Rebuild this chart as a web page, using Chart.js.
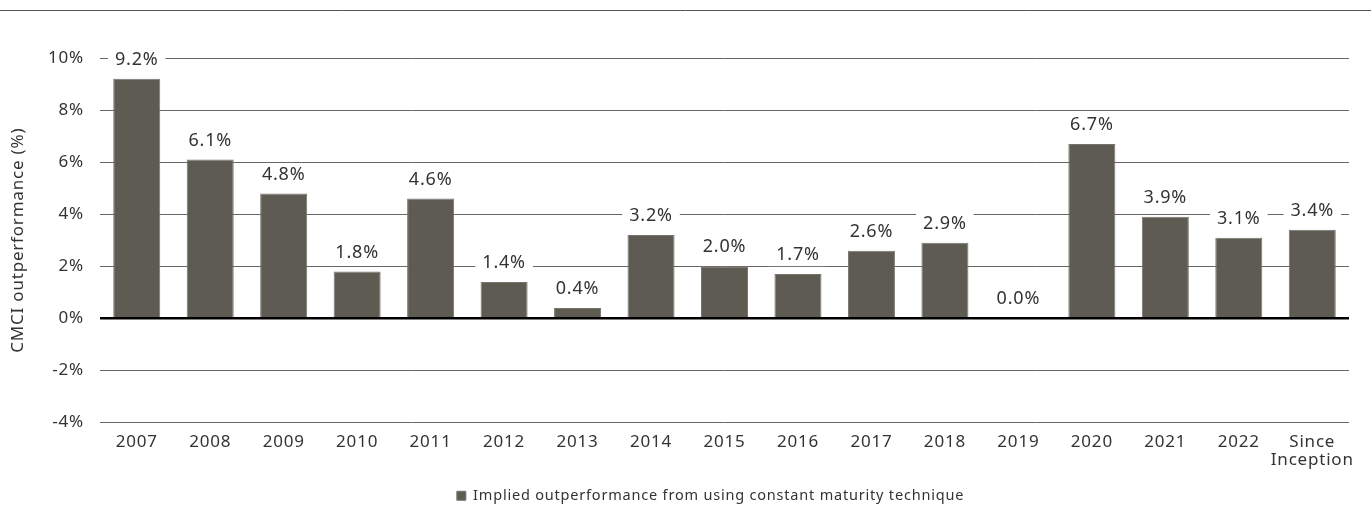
<!DOCTYPE html>
<html>
<head>
<meta charset="utf-8">
<script src="https://cdn.jsdelivr.net/npm/chart.js@4/dist/chart.umd.min.js"></script>
<style>
  body { margin: 0; background: #fff; }
  #wrap { width: 1371px; height: 507px; }
</style>
</head>
<body>
<div id="wrap"><canvas id="myChart" width="1371" height="507"></canvas></div>
<script>
// categories and values
const years = ["2007", "2008", "2009", "2010", "2011", "2012", "2013", "2014", "2015",
  "2016", "2017", "2018", "2019", "2020", "2021", "2022", ["Since", "Inception"]];
const outperformance = [9.2, 6.1, 4.8, 1.8, 4.6, 1.4, 0.4, 3.2, 2.0, 1.7, 2.6, 2.9, 0.0, 6.7, 3.9, 3.1, 3.4];
const yTicks = [-4, -2, 0, 2, 4, 6, 8, 10];

const FONT = "'Noto Sans', sans-serif";
const TEXT = "#333333";
const SPACING = "0.8px";

// the reference text is set a bit wide
const spacing = {
  id: "spacing",
  beforeInit(chart) { chart.ctx.letterSpacing = SPACING; },
  beforeUpdate(chart) { chart.ctx.letterSpacing = SPACING; },
  beforeDraw(chart) { chart.ctx.letterSpacing = SPACING; },
};

// legend sits a little right of centre and lower in the reference
const legendShift = {
  id: "legendShift",
  afterLayout(chart) {
    const lg = chart.legend;
    lg.left += 36;
    lg.right += 36;
    lg.top += 6;
    lg.bottom += 6;
  }
};

// labels above the bars, white box behind so the gridline is cut
const barLabels = {
  id: "barLabels",
  afterDatasetsDraw(chart) {
    const ctx = chart.ctx;
    const meta = chart.getDatasetMeta(0);
    ctx.save();
    ctx.letterSpacing = SPACING;
    ctx.font = "18px " + FONT;
    ctx.textAlign = "center";
    ctx.textBaseline = "middle";
    meta.data.forEach((bar, i) => {
      const txt = outperformance[i].toFixed(1) + "%";
      const w = ctx.measureText(txt).width + 14;
      const y = bar.y - 19;
      ctx.fillStyle = "#ffffff";
      ctx.fillRect(bar.x - w / 2, y - 11, w, 22);
      ctx.fillStyle = TEXT;
      ctx.fillText(txt, bar.x, y);
    });
    ctx.restore();
  }
};

// thin rule along the top of the figure
const topRule = {
  id: "topRule",
  beforeDraw(chart) {
    const ctx = chart.ctx;
    ctx.save();
    ctx.strokeStyle = "#555555";
    ctx.lineWidth = 1;
    ctx.beginPath();
    ctx.moveTo(0, 10.5);
    ctx.lineTo(chart.width, 10.5);
    ctx.stroke();
    ctx.restore();
  }
};

const ctx = document.getElementById("myChart").getContext("2d");
new Chart(ctx, {
  type: "bar",
  data: {
    labels: years,
    datasets: [
      {
        label: "Implied outperformance from using constant maturity technique",
        data: outperformance,
        backgroundColor: "#5e5b53",
        borderColor: "#77746c",
        borderWidth: 1,
        categoryPercentage: 1,
        barPercentage: 0.64,
      },
    ],
  },
  options: {
    responsive: false,
    animation: false,
    layout: { padding: { top: 58, right: 22, left: 0, bottom: 0 } },
    plugins: {
      tooltip: { enabled: false },
      legend: {
        position: "bottom",
        labels: {
          boxWidth: 9,
          boxHeight: 9,
          color: TEXT,
          font: { family: FONT, size: 14.5 },
          padding: 10,
        },
      },
    },
    scales: {
      x: {
        grid: { display: false, drawTicks: false },
        border: { display: false },
        ticks: {
          color: TEXT,
          font: { family: FONT, size: 17, lineHeight: 1.1 },
          padding: 10,
          maxRotation: 0,
          autoSkip: false,
        },
        afterFit(scale) { scale.height = 50; },
      },
      y: {
        min: -4,
        max: 10,
        afterBuildTicks(scale) { scale.ticks = yTicks.map(v => ({ value: v })); },
        grid: {
          drawTicks: false,
          color: (c) => (c.tick && c.tick.value === 0 ? "#000000" : "#666666"),
          lineWidth: (c) => (c.tick && c.tick.value === 0 ? 2.5 : 1),
        },
        border: { display: false },
        ticks: {
          color: TEXT,
          font: { family: FONT, size: 17 },
          padding: 16,
          callback: (v) => v + "%",
        },
        title: {
          display: true,
          text: "CMCI outperformance (%)",
          color: TEXT,
          font: { family: FONT, size: 17 },
          padding: { top: 8, bottom: 0 },
        },
        afterFit(scale) { scale.width = 100; },
      },
    },
  },
  plugins: [spacing, legendShift, barLabels, topRule],
});
</script>
</body>
</html>
